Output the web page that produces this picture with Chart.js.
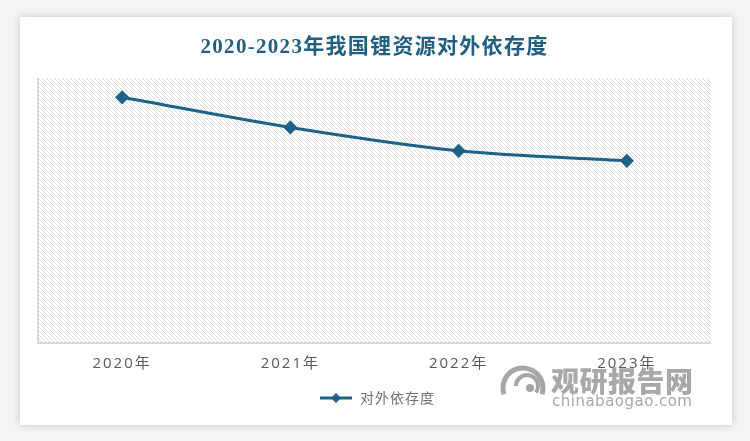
<!DOCTYPE html>
<html>
<head>
<meta charset="utf-8">
<script src="https://cdn.jsdelivr.net/npm/chart.js@4"></script>
<style>
  html, body { margin: 0; padding: 0; background: #f4f4f4; }
  body { width: 750px; height: 441px; position: relative; overflow: hidden; }
  .card {
    position: absolute; left: 20px; top: 17px; width: 712px; height: 408px;
    background: #fff; box-shadow: 0 0 8px rgba(0,0,0,0.18);
  }
  #wrap { position: absolute; left: 0; top: 0; width: 750px; height: 441px; }
  .wm { position: absolute; color: #999; font-family: "Noto Sans CJK SC", sans-serif; opacity: 0.85; }
</style>
</head>
<body>
<div class="card"></div>
<div id="wrap"><canvas id="lineChart" width="750" height="441"></canvas></div>
<div class="wm" style="left:551px; top:360px; font-size:28px; font-weight:900; letter-spacing:0.5px;">观研报告网</div>
<div class="wm" style="left:552px; top:392px; font-size:15px; font-family: 'DejaVu Sans', sans-serif; letter-spacing:0.5px;">chinabaogao.com</div>
<script>
const years = ['2020年', '2021年', '2022年', '2023年'];
const dependence = [92.8, 81.4, 72.6, 68.8];
const seriesName = '对外依存度';
const titleText = '2020-2023年我国锂资源对外依存度';

const mainColor = '#1d6386';

// hatched background tile
function makeHatch() {
    const c = document.createElement('canvas');
    c.width = 4; c.height = 4;
    const g = c.getContext('2d');
    g.fillStyle = '#ffffff';
    g.fillRect(0, 0, 4, 4);
    g.fillStyle = '#dcdcdc';
    for (let i = 0; i < 4; i++) g.fillRect(i, i, 1, 1);
    return c;
}

// legend marker: line with diamond
function makeLegendIcon() {
    const c = document.createElement('canvas');
    c.width = 34; c.height = 12;
    const g = c.getContext('2d');
    g.strokeStyle = mainColor;
    g.lineWidth = 3;
    g.beginPath(); g.moveTo(1, 6); g.lineTo(33, 6); g.stroke();
    g.fillStyle = mainColor;
    g.beginPath(); g.moveTo(17, 1); g.lineTo(22, 6); g.lineTo(17, 11); g.lineTo(12, 6); g.closePath(); g.fill();
    return c;
}

// wrap a draw method so its text gets letter spacing
function spaced(chart, obj, method, spacing) {
    if (!obj || obj['_sp_' + method]) return;
    const orig = obj[method].bind(obj);
    obj[method] = function (...args) {
        chart.ctx.save();
        chart.ctx.letterSpacing = spacing;
        orig(...args);
        chart.ctx.restore();
    };
    obj['_sp_' + method] = true;
}

const spacingPlugin = {
    id: 'spacing',
    afterLayout(chart) {
        spaced(chart, chart.scales.x, 'drawLabels', '2px');
        spaced(chart, chart.titleBlock, 'draw', '1.3px');
        spaced(chart, chart.legend, 'draw', '1px');
    }
};

const hatchPlugin = {
    id: 'hatch',
    beforeDraw(chart) {
        const { ctx, chartArea: a } = chart;
        ctx.save();
        ctx.fillStyle = ctx.createPattern(makeHatch(), 'repeat');
        ctx.fillRect(a.left, a.top, a.right - a.left, a.bottom - a.top);
        ctx.strokeStyle = '#d9d9d9';
        ctx.lineWidth = 2;
        ctx.beginPath();
        ctx.moveTo(a.left, a.top);
        ctx.lineTo(a.left, a.bottom);
        ctx.lineTo(a.right, a.bottom);
        ctx.stroke();
        ctx.restore();
    }
};

// watermark logo swirl
const logoPlugin = {
    id: 'logo',
    afterDraw(chart) {
        const ctx = chart.ctx;
        ctx.save();
        ctx.strokeStyle = 'rgba(150,150,150,0.85)';
        ctx.lineWidth = 5;
        ctx.beginPath(); ctx.arc(523, 388, 20, Math.PI * 0.9, Math.PI * 2.1); ctx.stroke();
        ctx.lineWidth = 4;
        ctx.beginPath(); ctx.arc(527, 386, 11, Math.PI * 1.0, Math.PI * 2.2); ctx.stroke();
        ctx.fillStyle = 'rgba(150,150,150,0.85)';
        ctx.beginPath(); ctx.arc(530, 388, 4, 0, Math.PI * 2); ctx.fill();
        ctx.restore();
    }
};

new Chart(document.getElementById('lineChart').getContext('2d'), {
    type: 'line',
    data: {
        labels: years,
        datasets: [{
            label: seriesName,
            data: dependence,
            borderColor: mainColor,
            backgroundColor: mainColor,
            borderWidth: 3,
            tension: 0.4,
            cubicInterpolationMode: 'monotone',
            pointStyle: 'rectRot',
            pointRadius: 5,
            pointHoverRadius: 5
        }]
    },
    options: {
        responsive: false,
        animation: false,
        layout: { padding: { left: 38, right: 39, top: 0, bottom: 26 } },
        scales: {
            x: {
                offset: true,
                grid: { display: false, drawTicks: false },
                border: { display: false },
                ticks: {
                    color: '#595959',
                    padding: 12,
                    font: { family: '"Open Sans", "Noto Sans CJK SC"', size: 15 }
                }
            },
            y: {
                display: false,
                min: 0,
                max: 100
            }
        },
        plugins: {
            title: {
                display: true,
                text: titleText,
                color: '#1f5f80',
                font: { family: '"Liberation Serif", "Noto Sans CJK SC"', size: 21, weight: 'bold' },
                padding: { top: 35, bottom: 18 }
            },
            legend: {
                position: 'bottom',
                labels: {
                    usePointStyle: true,
                    pointStyle: makeLegendIcon(),
                    pointStyleWidth: 34,
                    color: '#707070',
                    padding: 6,
                    font: { family: '"Noto Sans CJK SC"', size: 14 }
                }
            },
            tooltip: { enabled: false }
        }
    },
    plugins: [spacingPlugin, hatchPlugin, logoPlugin]
});
</script>
</body>
</html>
